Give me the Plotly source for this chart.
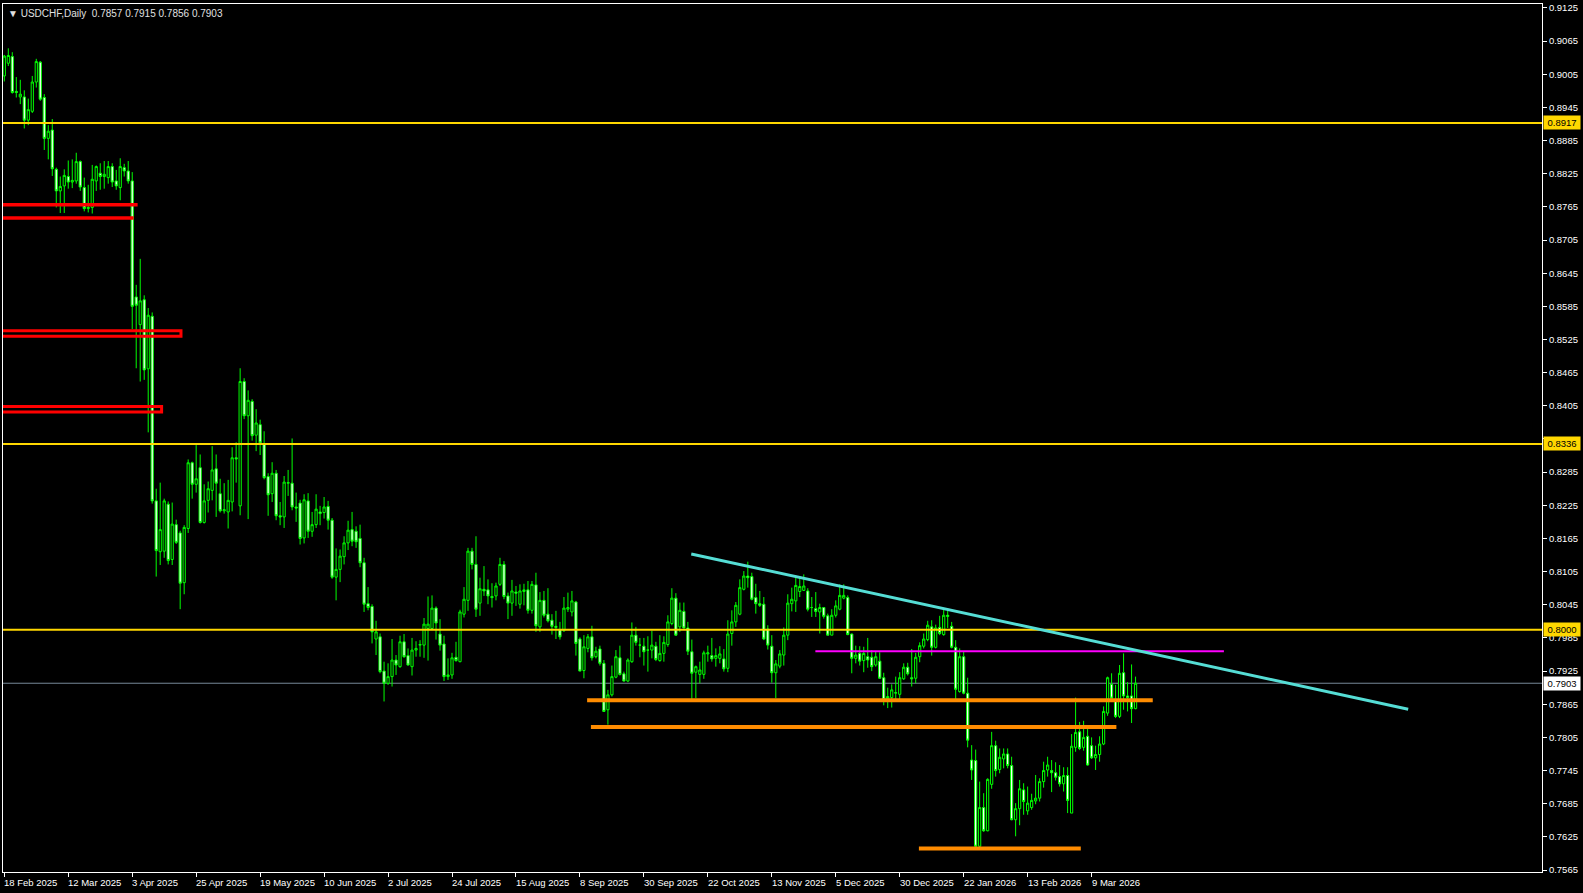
import plotly.graph_objects as go

# ---------------- data (USDCHF daily) ----------------
open_ = [0.9002,0.9025,0.9037,0.8974,0.8964,0.8964,0.8922,0.8938,0.8991,0.9027,
         0.8963,0.8889,0.8904,0.8833,0.8794,0.8803,0.8820,0.8810,0.8812,0.8847,
         0.8800,0.8762,0.8764,0.8812,0.8826,0.8820,0.8818,0.8838,0.8812,0.8800,
         0.8836,0.8830,0.8812,0.8602,0.8552,0.8597,0.8472,0.8567,0.8233,0.8141,
         0.8142,0.8227,0.8127,0.8190,0.8175,0.8085,0.8183,0.8302,0.8263,0.8293,
         0.8194,0.8234,0.8252,0.8291,0.8246,0.8215,0.8213,0.8231,0.8311,0.8224,
         0.8449,0.8387,0.8413,0.8352,0.8371,0.8336,0.8277,0.8246,0.8283,0.8206,
         0.8204,0.8265,0.8265,0.8222,0.8229,0.8166,0.8233,0.8178,0.8190,0.8213,
         0.8212,0.8223,0.8198,0.8095,0.8109,0.8132,0.8157,0.8181,0.8178,0.8165,
         0.8121,0.8047,0.8042,0.7983,0.7987,0.7925,0.7903,0.7915,0.7945,0.7933,
         0.7978,0.7953,0.7933,0.7963,0.7972,0.7972,0.8002,0.8002,0.8039,0.7992,
         0.7974,0.7915,0.7918,0.7950,0.7942,0.8028,0.8053,0.8142,0.8118,0.8048,
         0.8073,0.8072,0.8060,0.8061,0.8082,0.8118,0.8061,0.8048,0.8068,0.8046,
         0.8069,0.8072,0.8035,0.8081,0.8005,0.8053,0.8028,0.8017,0.8006,0.8000,
         0.7998,0.8037,0.8032,0.8050,0.7983,0.7926,0.7966,0.7987,0.7951,0.7965,
         0.7939,0.7855,0.7882,0.7914,0.7949,0.7920,0.7907,0.7942,0.7990,0.7972,
         0.7970,0.7963,0.7963,0.7970,0.7944,0.7957,0.7973,0.8011,0.8057,0.8005,
         0.8033,0.8003,0.7960,0.7923,0.7919,0.7919,0.7956,0.7953,0.7948,0.7948,
         0.7947,0.7930,0.7993,0.8014,0.8028,0.8073,0.8097,0.8096,0.8058,0.8047,
         0.8046,0.8001,0.7970,0.7922,0.7934,0.7954,0.7990,0.8047,0.8052,0.8069,
         0.8071,0.8070,0.8040,0.8038,0.8032,0.8040,0.8025,0.7990,0.8026,0.8037,
         0.8057,0.8058,0.7992,0.7948,0.7957,0.7944,0.7951,0.7950,0.7936,0.7943,
         0.7913,0.7875,0.7877,0.7885,0.7883,0.7911,0.7932,0.7913,0.7912,0.7951,
         0.7970,0.7982,0.8005,0.7968,0.8004,0.7991,0.8026,0.8006,0.7968,0.7888,
         0.7951,0.7885,0.7764,0.7763,0.7608,0.7678,0.7636,0.7720,0.7790,0.7747,
         0.7766,0.7775,0.7754,0.7656,0.7676,0.7710,0.7672,0.7678,0.7690,0.7695,
         0.7725,0.7746,0.7745,0.7741,0.7734,0.7721,0.7736,0.7668,0.7787,0.7815,
         0.7787,0.7807,0.7790,0.7768,0.7774,0.7793,0.7849,0.7901,0.7870,0.7843,
         0.7922,0.7880,0.7880,0.7857]
high = [0.9040,0.9052,0.9045,0.9000,0.8995,0.8976,0.8961,0.9002,0.9033,0.9029,
        0.8969,0.8913,0.8924,0.8836,0.8820,0.8833,0.8849,0.8851,0.8863,0.8849,
        0.8818,0.8805,0.8841,0.8840,0.8844,0.8848,0.8848,0.8844,0.8832,0.8853,
        0.8843,0.8848,0.8828,0.8624,0.8671,0.8605,0.8582,0.8574,0.8255,0.8266,
        0.8237,0.8232,0.8230,0.8199,0.8179,0.8189,0.8308,0.8304,0.8334,0.8317,
        0.8263,0.8268,0.8332,0.8317,0.8273,0.8265,0.8271,0.8330,0.8339,0.8473,
        0.8455,0.8433,0.8417,0.8399,0.8380,0.8359,0.8283,0.8303,0.8289,0.8231,
        0.8278,0.8289,0.8346,0.8248,0.8235,0.8245,0.8247,0.8213,0.8245,0.8224,
        0.8240,0.8233,0.8202,0.8147,0.8145,0.8169,0.8197,0.8213,0.8187,0.8190,
        0.8130,0.8077,0.8046,0.8016,0.7993,0.7942,0.7939,0.7983,0.7954,0.7989,
        0.7992,0.7966,0.7985,0.7979,0.7981,0.8021,0.8060,0.8062,0.8042,0.8019,
        0.7989,0.7948,0.7958,0.7978,0.8036,0.8077,0.8148,0.8148,0.8169,0.8094,
        0.8115,0.8091,0.8084,0.8085,0.8130,0.8124,0.8067,0.8090,0.8079,0.8082,
        0.8083,0.8088,0.8088,0.8103,0.8068,0.8070,0.8075,0.8028,0.8034,0.8014,
        0.8059,0.8067,0.8070,0.8052,0.7986,0.7990,0.7992,0.8007,0.7969,0.7971,
        0.7945,0.7891,0.7935,0.7963,0.7971,0.7924,0.7948,0.8013,0.8005,0.7985,
        0.7985,0.7988,0.7998,0.7978,0.7990,0.7988,0.8026,0.8075,0.8066,0.8049,
        0.8049,0.8014,0.7982,0.7935,0.7942,0.7962,0.7971,0.7985,0.7966,0.7970,
        0.7965,0.8017,0.8035,0.8050,0.8091,0.8106,0.8123,0.8103,0.8083,0.8070,
        0.8059,0.8008,0.7990,0.7945,0.7963,0.8004,0.8064,0.8076,0.8098,0.8097,
        0.8100,0.8075,0.8059,0.8068,0.8047,0.8040,0.8029,0.8037,0.8053,0.8082,
        0.8082,0.8062,0.7993,0.7971,0.7970,0.7969,0.7985,0.7963,0.7960,0.7959,
        0.7922,0.7895,0.7901,0.7915,0.7923,0.7939,0.7940,0.7965,0.7958,0.7977,
        0.7993,0.8016,0.8017,0.8009,0.8025,0.8038,0.8038,0.8014,0.7981,0.7966,
        0.7961,0.7913,0.7791,0.7783,0.7725,0.7704,0.7731,0.7815,0.7799,0.7785,
        0.7785,0.7785,0.7770,0.7686,0.7728,0.7722,0.7716,0.7703,0.7737,0.7731,
        0.7761,0.7770,0.7764,0.7760,0.7755,0.7751,0.7751,0.7811,0.7877,0.7833,
        0.7835,0.7822,0.7805,0.7790,0.7807,0.7861,0.7915,0.7921,0.7900,0.7936,
        0.7957,0.7905,0.7937,0.7915]
low = [0.8992,0.9020,0.8970,0.8963,0.8951,0.8907,0.8913,0.8935,0.8981,0.8957,
       0.8868,0.8851,0.8821,0.8764,0.8754,0.8754,0.8798,0.8799,0.8807,0.8794,
       0.8757,0.8755,0.8753,0.8794,0.8796,0.8798,0.8807,0.8801,0.8796,0.8777,
       0.8820,0.8807,0.8544,0.8473,0.8449,0.8452,0.8357,0.8228,0.8096,0.8117,
       0.8130,0.8118,0.8117,0.8155,0.8037,0.8064,0.8175,0.8237,0.8248,0.8192,
       0.8192,0.8212,0.8234,0.8204,0.8212,0.8210,0.8183,0.8214,0.8266,0.8207,
       0.8381,0.8200,0.8342,0.8323,0.8316,0.8272,0.8206,0.8231,0.8198,0.8189,
       0.8184,0.8242,0.8216,0.8195,0.8154,0.8156,0.8166,0.8168,0.8184,0.8189,
       0.8201,0.8181,0.8092,0.8053,0.8086,0.8118,0.8144,0.8151,0.8148,0.8113,
       0.8032,0.8035,0.7975,0.7954,0.7921,0.7870,0.7900,0.7897,0.7918,0.7931,
       0.7949,0.7935,0.7917,0.7951,0.7951,0.7949,0.7944,0.7999,0.7982,0.7962,
       0.7907,0.7909,0.7911,0.7942,0.7941,0.8022,0.8034,0.8109,0.8023,0.8025,
       0.8061,0.8046,0.8040,0.8053,0.8079,0.8055,0.8019,0.8025,0.8043,0.8038,
       0.8044,0.8029,0.8029,0.7996,0.7996,0.8022,0.8013,0.7991,0.7983,0.7982,
       0.7996,0.8032,0.8024,0.7953,0.7925,0.7912,0.7959,0.7944,0.7948,0.7935,
       0.7851,0.7828,0.7879,0.7912,0.7917,0.7906,0.7905,0.7940,0.7971,0.7950,
       0.7935,0.7924,0.7948,0.7943,0.7942,0.7942,0.7969,0.8008,0.7989,0.7996,
       0.8002,0.7954,0.7874,0.7876,0.7903,0.7911,0.7942,0.7942,0.7933,0.7939,
       0.7924,0.7923,0.7971,0.8005,0.8026,0.8071,0.8076,0.8053,0.8029,0.8041,
       0.7981,0.7964,0.7904,0.7876,0.7930,0.7935,0.7981,0.8033,0.8032,0.8059,
       0.8070,0.8033,0.8023,0.8023,0.7993,0.8020,0.7990,0.7990,0.8022,0.8035,
       0.8055,0.7990,0.7921,0.7939,0.7935,0.7923,0.7931,0.7925,0.7933,0.7911,
       0.7863,0.7858,0.7859,0.7873,0.7873,0.7909,0.7917,0.7897,0.7903,0.7941,
       0.7966,0.7979,0.7953,0.7966,0.7990,0.7989,0.8003,0.7966,0.7874,0.7886,
       0.7883,0.7787,0.7728,0.7605,0.7605,0.7634,0.7635,0.7712,0.7734,0.7740,
       0.7749,0.7749,0.7655,0.7626,0.7646,0.7665,0.7665,0.7674,0.7684,0.7689,
       0.7714,0.7734,0.7706,0.7727,0.7716,0.7707,0.7668,0.7668,0.7779,0.7782,
       0.7781,0.7754,0.7766,0.7746,0.7761,0.7791,0.7844,0.7871,0.7840,0.7840,
       0.7855,0.7852,0.7831,0.7856]
close = [0.9038,0.9039,0.8972,0.8972,0.8969,0.8922,0.8941,0.8991,0.9028,0.8960,
         0.8889,0.8902,0.8834,0.8794,0.8802,0.8822,0.8810,0.8813,0.8847,0.8801,
         0.8762,0.8764,0.8815,0.8838,0.8820,0.8824,0.8838,0.8810,0.8803,0.8838,
         0.8830,0.8812,0.8585,0.8587,0.8595,0.8470,0.8569,0.8233,0.8143,0.8181,
         0.8233,0.8125,0.8191,0.8158,0.8084,0.8185,0.8302,0.8263,0.8273,0.8194,
         0.8233,0.8255,0.8289,0.8265,0.8215,0.8217,0.8234,0.8311,0.8309,0.8449,
         0.8387,0.8415,0.8351,0.8374,0.8338,0.8275,0.8244,0.8283,0.8206,0.8204,
         0.8267,0.8266,0.8222,0.8220,0.8165,0.8235,0.8178,0.8190,0.8218,0.8210,
         0.8222,0.8198,0.8095,0.8109,0.8133,0.8157,0.8180,0.8160,0.8159,0.8121,
         0.8046,0.8040,0.7996,0.7996,0.7924,0.7903,0.7915,0.7945,0.7936,0.7978,
         0.7951,0.7936,0.7963,0.7966,0.7973,0.8010,0.8010,0.8039,0.8012,0.7972,
         0.7915,0.7918,0.7949,0.7944,0.8032,0.8055,0.8142,0.8118,0.8037,0.8074,
         0.8070,0.8061,0.8058,0.8079,0.8118,0.8060,0.8048,0.8070,0.8066,0.8070,
         0.8072,0.8035,0.8082,0.8007,0.8053,0.8026,0.8016,0.8006,0.8004,0.7987,
         0.8039,0.8040,0.8052,0.7975,0.7925,0.7969,0.7987,0.7949,0.7961,0.7939,
         0.7852,0.7882,0.7915,0.7951,0.7919,0.7907,0.7945,0.7990,0.7977,0.7972,
         0.7960,0.7963,0.7972,0.7946,0.7957,0.7977,0.8014,0.8057,0.7990,0.8035,
         0.8003,0.7961,0.7921,0.7933,0.7927,0.7958,0.7958,0.7947,0.7953,0.7956,
         0.7929,0.7992,0.8014,0.8044,0.8076,0.8097,0.8094,0.8055,0.8047,0.8044,
         0.7983,0.7972,0.7922,0.7938,0.7956,0.7990,0.8048,0.8055,0.8080,0.8078,
         0.8079,0.8037,0.8040,0.8033,0.8040,0.8024,0.7990,0.8026,0.8043,0.8062,
         0.8062,0.7991,0.7948,0.7954,0.7943,0.7957,0.7945,0.7933,0.7951,0.7912,
         0.7873,0.7879,0.7891,0.7886,0.7913,0.7932,0.7920,0.7911,0.7950,0.7971,
         0.7983,0.8008,0.7968,0.8003,0.7993,0.8026,0.8024,0.7968,0.7892,0.7951,
         0.7885,0.7800,0.7746,0.7608,0.7678,0.7636,0.7729,0.7790,0.7745,0.7769,
         0.7775,0.7754,0.7656,0.7676,0.7712,0.7689,0.7686,0.7691,0.7695,0.7725,
         0.7745,0.7755,0.7741,0.7733,0.7721,0.7736,0.7691,0.7789,0.7814,0.7785,
         0.7805,0.7755,0.7768,0.7774,0.7793,0.7852,0.7913,0.7876,0.7843,0.7921,
         0.7880,0.7877,0.7857,0.7903]
bar_index = list(range(len(close)))

symbol_title = "USDCHF,Daily"

date_tick_bars = [0, 16, 32, 48, 64, 80, 96, 112, 128, 144, 160, 176, 192, 208, 224, 240, 256, 272]
date_tick_labels = ["18 Feb 2025", "12 Mar 2025", "3 Apr 2025", "25 Apr 2025", "19 May 2025",
                    "10 Jun 2025", "2 Jul 2025", "24 Jul 2025", "15 Aug 2025", "8 Sep 2025",
                    "30 Sep 2025", "22 Oct 2025", "13 Nov 2025", "5 Dec 2025", "30 Dec 2025",
                    "22 Jan 2026", "13 Feb 2026", "9 Mar 2026"]

price_ticks = [0.7565, 0.7625, 0.7685, 0.7745, 0.7805, 0.7865, 0.7925, 0.7985, 0.8045,
               0.8105, 0.8165, 0.8225, 0.8285, 0.8345, 0.8405, 0.8465, 0.8525, 0.8585,
               0.8645, 0.8705, 0.8765, 0.8825, 0.8885, 0.8945, 0.9005, 0.9065, 0.9125]
# tick labels (0.8345 is hidden behind the 0.8336 level tag in the chart)
price_tick_text = ["0.7565", "0.7625", "0.7685", "0.7745", "0.7805", "0.7865", "0.7925", "0.7985",
                   "0.8045", "0.8105", "0.8165", "0.8225", "0.8285", "", "0.8405", "0.8465",
                   "0.8525", "0.8585", "0.8645", "0.8705", "0.8765", "0.8825", "0.8885", "0.8945",
                   "0.9005", "0.9065", "0.9125"]

level_prices = [0.8917, 0.8336, 0.8000]     # yellow horizontal levels
current_price = 0.7903                       # last close price line

# drawn objects (price, start bar, end bar)
red_lines = [(0.8769, -5, 33.35), (0.8745, -5, 32.35)]
red_boxes = [(0.8531, 0.8541, -5, 44.2), (0.8394, 0.8404, -5, 39.35)]
orange_lines = [(0.7872, 145.8, 287.3), (0.7824, 146.75, 278.2), (0.7604, 228.8, 269.3)]
magenta_line = (0.7961, 202.9, 305.1)
trend_line = [(171.85, 0.8137), (351.2, 0.7856)]

# ---------------- figure ----------------
FONT = "Liberation Sans"
fig = go.Figure()

fig.add_trace(go.Candlestick(
    x=bar_index, open=open_, high=high, low=low, close=close,
    increasing=dict(line=dict(color="#00FF00", width=1), fillcolor="#000000"),
    decreasing=dict(line=dict(color="#00FF00", width=1), fillcolor="#FFFFFF"),
    whiskerwidth=0, hoverinfo="skip", showlegend=False,
))

shapes = []
shapes.append(dict(type="line", xref="paper", x0=0, x1=1, yref="y", y0=current_price, y1=current_price,
                   line=dict(color="#778899", width=1), layer="below"))
for p in level_prices:
    shapes.append(dict(type="line", xref="paper", x0=0, x1=1, yref="y", y0=p, y1=p,
                       line=dict(color="#FFD700", width=2)))
for p, xa, xb in red_lines:
    shapes.append(dict(type="line", xref="x", x0=xa, x1=xb, yref="y", y0=p, y1=p,
                       line=dict(color="#FF0000", width=3.5)))
for p0, p1, xa, xb in red_boxes:
    shapes.append(dict(type="rect", xref="x", x0=xa, x1=xb, yref="y", y0=p0, y1=p1,
                       line=dict(color="#FF0000", width=3), fillcolor="rgba(0,0,0,0)"))
for p, xa, xb in orange_lines:
    shapes.append(dict(type="line", xref="x", x0=xa, x1=xb, yref="y", y0=p, y1=p,
                       line=dict(color="#FF8C00", width=4)))
mp, mxa, mxb = magenta_line
shapes.append(dict(type="line", xref="x", x0=mxa, x1=mxb, yref="y", y0=mp, y1=mp,
                   line=dict(color="#FF00FF", width=2)))
(tx0, ty0), (tx1, ty1) = trend_line
shapes.append(dict(type="line", xref="x", x0=tx0, x1=tx1, yref="y", y0=ty0, y1=ty1,
                   line=dict(color="#55DDD5", width=3)))

annotations = []
for b, lab in zip(date_tick_bars, date_tick_labels):
    annotations.append(dict(x=b, xref="x", y=0, yref="paper", text=lab, showarrow=False,
                            xanchor="left", yanchor="top", xshift=-2, yshift=-3,
                            font=dict(family=FONT, size=9.5, color="#FFFFFF")))
for p in level_prices:
    annotations.append(dict(x=1, xref="paper", y=p, yref="y", text=f"{p:.4f}", showarrow=False,
                            xanchor="left", yanchor="middle", xshift=1, bgcolor="#FFD700",
                            borderpad=1, width=34, height=11,
                            font=dict(family=FONT, size=9.5, color="#000000")))
annotations.append(dict(x=1, xref="paper", y=current_price, yref="y", text=f"{current_price:.4f}",
                        showarrow=False, xanchor="left", yanchor="middle", xshift=1, bgcolor="#FFFFFF",
                        borderpad=1, width=34, height=11,
                        font=dict(family=FONT, size=9.5, color="#000000")))
title_txt = "▼ " + symbol_title + "  " + " ".join(f"{v:.4f}" for v in (open_[-1], high[-1], low[-1], close[-1]))
annotations.append(dict(x=0, xref="paper", y=1, yref="paper", text=title_txt, showarrow=False,
                        xanchor="left", yanchor="top", xshift=3, yshift=-2,
                        font=dict(family=FONT, size=10, color="#E0E0E0")))

fig.update_layout(
    width=1583, height=893,
    margin=dict(l=2, r=41, t=2, b=21, pad=0),
    paper_bgcolor="#000000", plot_bgcolor="#000000",
    boxgap=0.45, boxgroupgap=0,
    shapes=shapes, annotations=annotations,
    showlegend=False, hovermode=False,
    xaxis=dict(range=[-0.325, 384.675], rangeslider=dict(visible=False),
               showgrid=False, zeroline=False, showline=True, mirror=True,
               linecolor="#FFFFFF", linewidth=1,
               tickmode="array", tickvals=date_tick_bars, showticklabels=False,
               ticks="outside", ticklen=4, tickcolor="#FFFFFF", tickwidth=1),
    yaxis=dict(range=[0.75614, 0.91322], side="right",
               showgrid=False, zeroline=False, showline=True, mirror=True,
               linecolor="#FFFFFF", linewidth=1,
               tickmode="array", tickvals=price_ticks, ticktext=price_tick_text,
               ticks="outside", ticklen=4, tickcolor="#FFFFFF", tickwidth=1,
               tickfont=dict(family=FONT, size=9.5, color="#FFFFFF")),
)

fig.write_html("out.html", config={"displayModeBar": False},
               post_script="document.body.style.margin='0';document.body.style.overflow='hidden';")
